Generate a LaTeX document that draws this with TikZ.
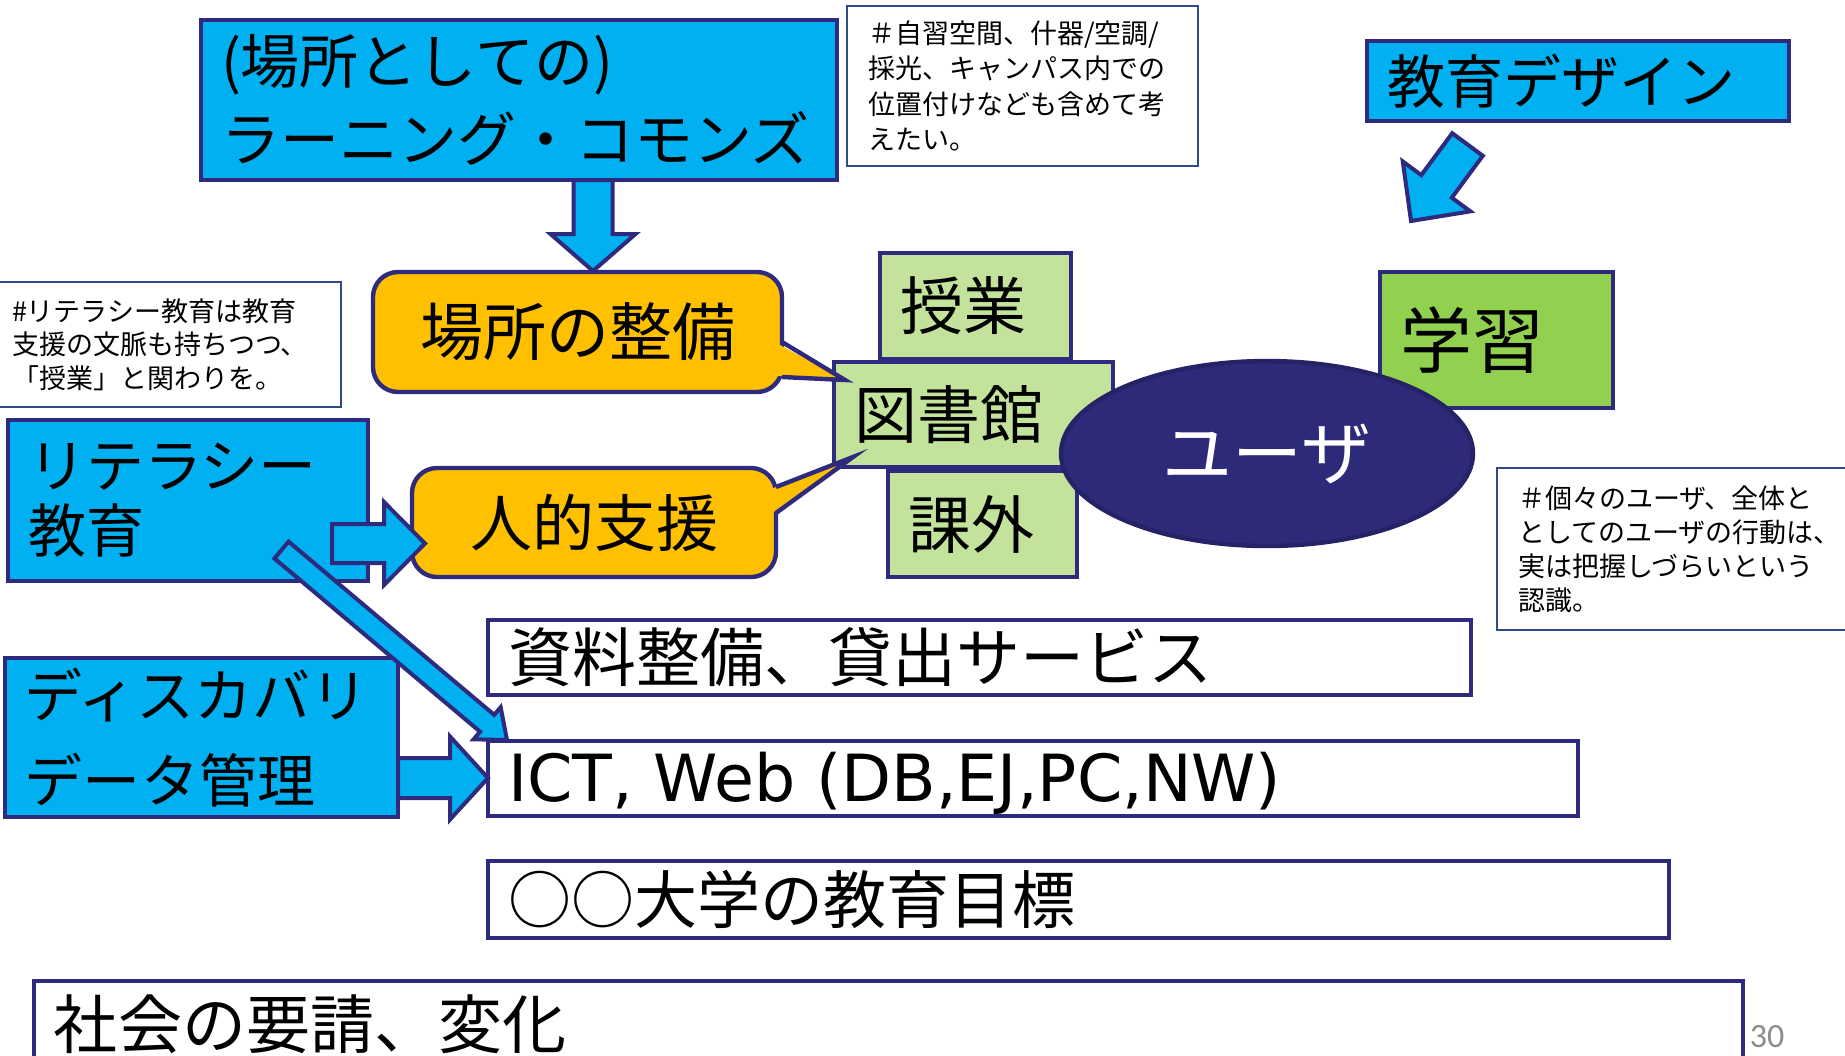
\documentclass[tikz,border=0pt]{standalone}
\usepackage{fontspec}
\setmainfont{Noto Sans CJK JP}
\newfontfamily\latinfont{DejaVu Sans}
\newfontfamily\pagefont{Carlito}
\usetikzlibrary{shapes.geometric,calc}
\definecolor{cblue}{HTML}{00B0F0}
\definecolor{cnavy}{HTML}{2E2A7E}
\definecolor{cellipse}{HTML}{2E2A7A}
\definecolor{cgreen}{HTML}{C3E29C}
\definecolor{cgreenb}{HTML}{92D050}
\definecolor{corange}{HTML}{FFC000}
\definecolor{cnote}{HTML}{2F4A86}
\newcommand\fsz[2]{\fontsize{#1}{#2}\selectfont}
% block arrow: #1 start, #2 tip, #3 half shaft, #4 half head, #5 head length
\newcommand\blockarrow[5]{%
  \path ($(#2)!#5!(#1)$) coordinate (hb);
  \draw[barrow] ($(#1)!#3!90:(#2)$) -- ($(hb)!#3!90:(#2)$) -- ($(hb)!#4!90:(#2)$) -- (#2)
    -- ($(hb)!#4!-90:(#2)$) -- ($(hb)!#3!-90:(#2)$) -- ($(#1)!#3!-90:(#2)$) -- cycle;}
\begin{document}
\begin{tikzpicture}[x=0.5pt,y=-0.5pt,
  box/.style={rectangle, draw=cnavy, line width=2.2pt, inner ysep=0pt, inner xsep=10pt, align=left},
  bluebox/.style={box, fill=cblue},
  greenbox/.style={box, fill=cgreen},
  whitebox/.style={box, fill=white},
  note/.style={rectangle, draw=cnote, line width=0.8pt, fill=white, inner ysep=0pt, inner xsep=10.5pt, align=left},
  callout/.style={rectangle, rounded corners=12.5pt, draw=cnavy, line width=2.2pt, fill=corange, inner sep=0pt, align=center},
  barrow/.style={fill=cblue, draw=cnavy, line width=2pt, line join=miter},
  wedge/.style={draw=cnavy, line width=2.2pt, line join=miter}
]
\useasboundingbox (0,0) rectangle (1845,1055);
\clip (0,0) rectangle (1845,1055);
\fill[white] (0,0) rectangle (1845,1055);

% notes
\node[note, minimum width=175.5pt, minimum height=80pt, text width=154.5pt, font={\fsz{13.5pt}{17.6pt}}] (note1) at (1022.5,86)
  {＃自習空間、什器/空調/\\採光、キャンパス内での\\位置付けなども含めて考\\えたい。};
\node[note, minimum width=175.5pt, minimum height=62.5pt, inner xsep=11pt, text width=153.5pt, font={\fsz{13.5pt}{16.75pt}}] (note2) at (165.5,344.5)
  {\#リテラシー教育は教育\\支援の文脈も持ちつつ、\\「授業」と関わりを。};
\node[note, minimum width=186.5pt, minimum height=81pt, text width=165.5pt, font={\fsz{13.5pt}{17pt}}] (note3) at (1683.5,549)
  {＃個々のユーザ、全体と\\としてのユーザの行動は、\\実は把握しづらいという\\認識。};

% blue boxes
\node[bluebox, minimum width=318pt, minimum height=80pt, text width=298pt, font={\fsz{29.5pt}{39pt}}] (lc) at (519,100)
  {(場所としての)\\ラーニング・コモンズ};
\node[bluebox, minimum width=211pt, minimum height=40pt, text width=191pt, font={\fsz{29pt}{35pt}}] (design) at (1578,81)
  {教育デザイン};
\node[bluebox, minimum width=180pt, minimum height=80.5pt, text width=160pt, font={\fsz{29pt}{32.5pt}}] (lit) at (188,500.5)
  {リテラシー\\教育};
\node[bluebox, minimum width=196.5pt, minimum height=79.5pt, text width=176.5pt, font={\fsz{29pt}{42.5pt}}] (disc) at (201.5,737.5)
  {ディスカバリ\\データ管理};

% white boxes
\node[whitebox, minimum width=491.5pt, minimum height=37.5pt, text width=471.5pt, font={\fsz{32pt}{38pt}}] (shiryo) at (979.5,657.5)
  {資料整備、貸出サービス};
\node[whitebox, minimum width=545pt, minimum height=37.5pt, text width=525pt, font={\latinfont\fsz{32.5pt}{38pt}}] (ict) at (1033,778.5)
  {\raisebox{-3pt}[0.76em][0.23em]{ICT,\hspace{0.32em}Web\hspace{0.32em}(DB,EJ,PC,NW)}};
\node[whitebox, minimum width=590.5pt, minimum height=38.5pt, text width=570.5pt, font={\fsz{31.5pt}{38pt}}] (goal) at (1078.5,899.5)
  {○○大学の教育目標};
\node[whitebox, minimum width=854.5pt, minimum height=43pt, text width=834.5pt, font={\fsz{32pt}{38pt}}] (society) at (888.5,1024)
  {社会の要請、変化};

% green boxes
\node[greenbox, minimum width=95.5pt, minimum height=53pt, text width=75.5pt, font={\fsz{31.5pt}{38pt}}] (jugyo) at (975.5,306)
  {授業};
\node[greenbox, minimum width=94.5pt, minimum height=53pt, text width=74.5pt, font={\fsz{31.5pt}{38pt}}] (kagai) at (982.5,524)
  {課外};
\node[greenbox, minimum width=139.5pt, minimum height=52.5pt, text width=119.5pt, font={\fsz{31.5pt}{38pt}}] (lib) at (973.5,414.5)
  {図書館};
\node[box, fill=cgreenb, minimum width=116.5pt, minimum height=68pt, text width=96.5pt, font={\fsz{36pt}{42pt}}] (gaku) at (1496.5,340)
  {学習};

% callouts
\node[callout, minimum width=204.5pt, minimum height=60pt, font={\fsz{31.5pt}{38pt}}] (place) at (577.5,332)
  {場所の整備};
\coordinate (pw1) at (782,342);
\coordinate (pw2) at (782,377);
\coordinate (ptip) at (845,380);
\fill[corange] (778,344) -- (ptip) -- (778,376) -- cycle;
\draw[wedge] (pw1) -- (ptip) -- (pw2);

\node[callout, minimum width=182pt, minimum height=54.5pt, font={\fsz{31pt}{38pt}}] (human) at (594,522.5)
  {人的支援};
\coordinate (hw1) at (776,487);
\coordinate (hw2) at (776,513);
\coordinate (htip) at (853,457);
\fill[corange] (771,489) -- (htip) -- (771,514) -- cycle;
\draw[wedge] (hw1) -- (htip) -- (hw2);

% user ellipse
\node[ellipse, draw=cnavy!80!black, line width=2.2pt, fill=cellipse, minimum width=206pt, minimum height=92.5pt, inner sep=0pt, text=white, font={\fsz{35pt}{40pt}}] (user) at (1267,453.5)
  {ユーザ};

% block arrows
\coordinate (a1s) at (593,180);
\coordinate (a1e) at (593,271);
\blockarrow{a1s}{a1e}{9.75pt}{21.25pt}{18.5pt}
\coordinate (a2s) at (332,543.5);
\coordinate (a2e) at (425,543.5);
\blockarrow{a2s}{a2e}{9.75pt}{20.75pt}{20.5pt}
\coordinate (a3s) at (398,778);
\coordinate (a3e) at (488,778);
\blockarrow{a3s}{a3e}{10pt}{20.75pt}{19pt}
\coordinate (a4s) at (281.5,550);
\coordinate (a4e) at (507,740);
\blockarrow{a4s}{a4e}{5.5pt}{10.5pt}{13pt}
\coordinate (a5s) at (1467.5,144.5);
\coordinate (a5e) at (1411,221);
\blockarrow{a5s}{a5e}{9.5pt}{21pt}{21.5pt}

% page number
\node[text=black!45, inner sep=0pt, font={\pagefont\fsz{17pt}{20pt}}] (pnum) at (1767,1037) {30};
\end{tikzpicture}
\end{document}
